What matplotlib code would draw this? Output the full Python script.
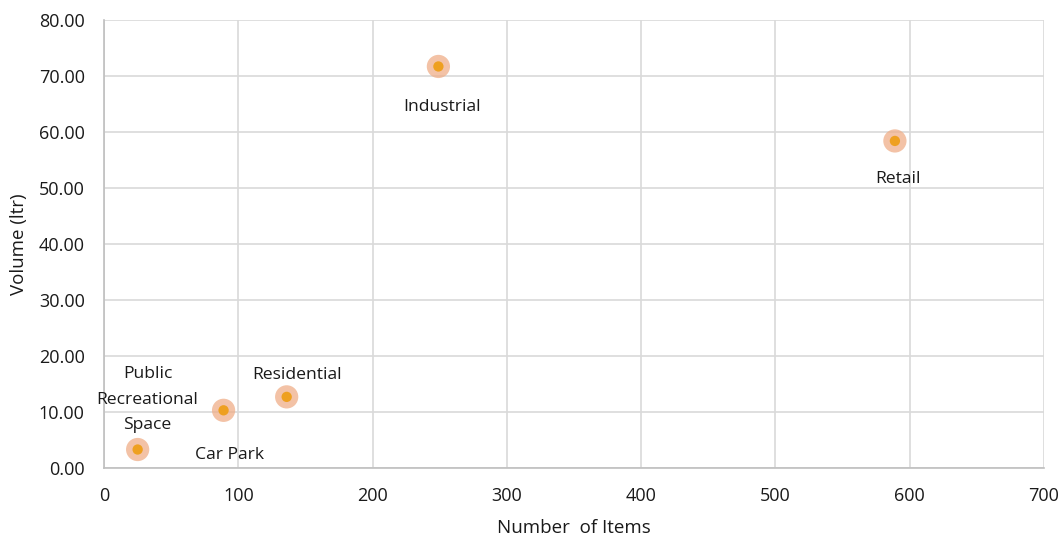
import matplotlib.pyplot as plt
from matplotlib.ticker import FormatStrFormatter

plt.rcParams['font.family'] = ['Open Sans', 'DejaVu Sans']

# Usage by site type
categories = ['Industrial', 'Retail', 'Residential', 'Car Park', 'Public\nRecreational\nSpace']
num_items = [249, 589, 136, 89, 25]
volume = [71.7, 58.4, 12.7, 10.3, 3.3]

# label offsets in pixels relative to each point
offsets = [(4, -41), (3, -38), (10, 22), (6, -45), (10, 50)]

fig = plt.figure(figsize=(10.62, 5.37), dpi=100)
ax = fig.add_axes([0.098, 0.1285, 0.885, 0.8343])

ax.scatter(num_items, volume, s=280, color='#EFAE88', alpha=0.75, edgecolors='none', zorder=3)
ax.scatter(num_items, volume, s=55, color='#EEA020', edgecolors='none', zorder=4)

for name, x, y, (dx, dy) in zip(categories, num_items, volume, offsets):
    ax.annotate(name, (x, y), xytext=(dx, dy), textcoords='offset pixels',
                ha='center', va='center', fontsize=12.6, color='#1a1a1a',
                linespacing=1.8)

ax.set_xlim(0, 700)
ax.set_ylim(0, 80)
ax.set_xticks(range(0, 701, 100))
ax.set_yticks(range(0, 81, 10))
ax.yaxis.set_major_formatter(FormatStrFormatter('%.2f'))

ax.grid(True, color='#D9D9D9', linewidth=1.2)
ax.set_axisbelow(True)
for side in ['top', 'right']:
    ax.spines[side].set_visible(False)
for side in ['left', 'bottom']:
    ax.spines[side].set_color('#BFBFBF')
    ax.spines[side].set_linewidth(1.2)

ax.tick_params(length=0, labelsize=13, labelcolor='#1a1a1a')
ax.tick_params(axis='x', pad=14)
ax.tick_params(axis='y', pad=14)
ax.set_xlabel('Number  of Items', fontsize=13.5, color='#1a1a1a', labelpad=10)
ax.set_ylabel('Volume (ltr)', fontsize=13.5, color='#1a1a1a', labelpad=8)

fig.savefig('out.png', dpi=100)
